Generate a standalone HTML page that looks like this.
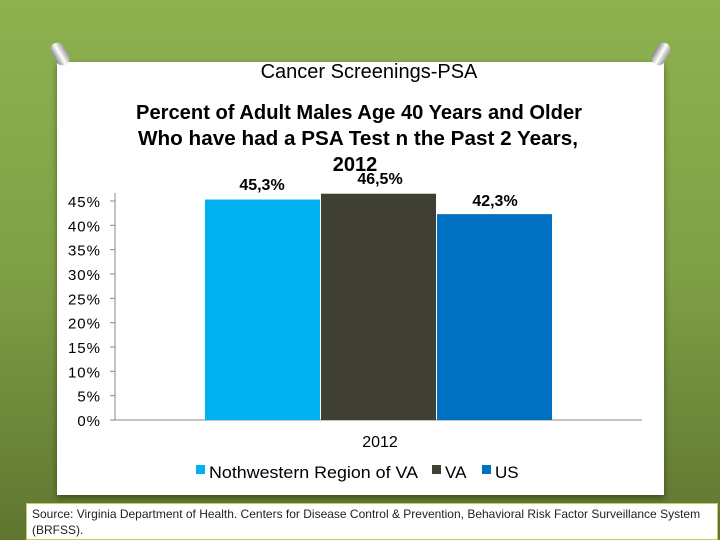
<!DOCTYPE html>
<html><head><meta charset="utf-8"><style>
body{margin:0;width:720px;height:540px;overflow:hidden;background:linear-gradient(#8db24f,#7fa046 50%,#5f7530);font-family:"Liberation Sans",sans-serif;position:relative}
#card{position:absolute;left:57px;top:62px;width:607px;height:433px;background:#fff;box-shadow:0 3px 6px rgba(0,0,0,.4)}
.pin{position:absolute;width:14px;height:24px;border-radius:7px;background:linear-gradient(90deg,#888,#fff,#999);transform:rotate(-30deg)}
#src{position:absolute;left:26px;top:503px;width:692px;height:37px;background:#fff;border:1px solid #c8c860;box-sizing:border-box;font-size:12px;color:#222;padding:2px 5px 0 5px;line-height:16px}
</style></head><body>
<div id="card"></div>
<div class="pin" style="left:53px;top:42px"></div>
<div class="pin" style="left:654px;top:42px;transform:rotate(30deg)"></div>
<svg width="720" height="540" style="position:absolute;left:0;top:0" id="svg">
<text x="369" y="78" text-anchor="middle" font-size="20">Cancer Screenings-PSA</text>
<g font-weight="bold" font-size="20" text-anchor="middle">
<text x="359" y="119" textLength="446" lengthAdjust="spacingAndGlyphs">Percent of Adult Males Age 40 Years and Older</text>
<text x="358" y="145" textLength="440" lengthAdjust="spacingAndGlyphs">Who have had a PSA Test n the Past 2 Years,</text>
<text x="355" y="171">2012</text></g>
<line x1="115" y1="193" x2="115" y2="420" stroke="#888"/>
<line x1="115" y1="420" x2="642" y2="420" stroke="#888"/>
<g id="ticks"></g><g id="bars"></g>
<text x="380" y="447" text-anchor="middle" font-size="16">2012</text>
<g font-size="17">
<rect x="196" y="465" width="9" height="9" fill="#00b0f0"/><text x="209" y="478" textLength="209" lengthAdjust="spacingAndGlyphs">Nothwestern Region of VA</text>
<rect x="432" y="465" width="9" height="9" fill="#3f3f34"/><text x="445" y="478">VA</text>
<rect x="482" y="465" width="9" height="9" fill="#0070c0"/><text x="495" y="478">US</text>
</g>
</svg>
<div id="src">Source: Virginia Department of Health. Centers for Disease Control &amp; Prevention, Behavioral Risk Factor Surveillance System (BRFSS).</div>
<script>
const series=["Nothwestern Region of VA","VA","US"];
const values=[45.3,46.5,42.3];
const valueLabels=["45,3%","46,5%","42,3%"];
const ticks=[0,5,10,15,20,25,30,35,40,45];
const colors=["#00b0f0","#3f3f34","#0070c0"];
const NS="http://www.w3.org/2000/svg";
function y(v){return 420-v*(219/45);}
const tg=document.getElementById('ticks');
ticks.forEach(t=>{
 const l=document.createElementNS(NS,'line');l.setAttribute('x1',110);l.setAttribute('x2',115);l.setAttribute('y1',y(t));l.setAttribute('y2',y(t));l.setAttribute('stroke','#888');
 
 
 tg.appendChild(l);
 const tx=document.createElementNS(NS,'text');tx.setAttribute('x',101);tx.setAttribute('y',y(t)+6);tx.setAttribute('text-anchor','end');tx.setAttribute('font-size','15');tx.setAttribute('letter-spacing','1');tx.textContent=t+'%';
 
 
 tg.appendChild(tx);
});
const bg=document.getElementById('bars');
const x0=205,bw=116;
values.forEach((v,i)=>{
 const r=document.createElementNS(NS,'rect');r.setAttribute('x',x0+i*bw);r.setAttribute('width',bw-1);r.setAttribute('y',y(v));r.setAttribute('height',420-y(v));r.setAttribute('fill',colors[i]);
 
 
 bg.appendChild(r);
 const t=document.createElementNS(NS,'text');
 const lx=[262,380,495][i], ly=[190,184,206][i];
 t.setAttribute('x',lx);t.setAttribute('y',ly);t.setAttribute('text-anchor','middle');t.setAttribute('font-size','16');t.setAttribute('font-weight','bold');t.textContent=valueLabels[i];
 
 
 bg.appendChild(t);
});
</script>
</body></html>
